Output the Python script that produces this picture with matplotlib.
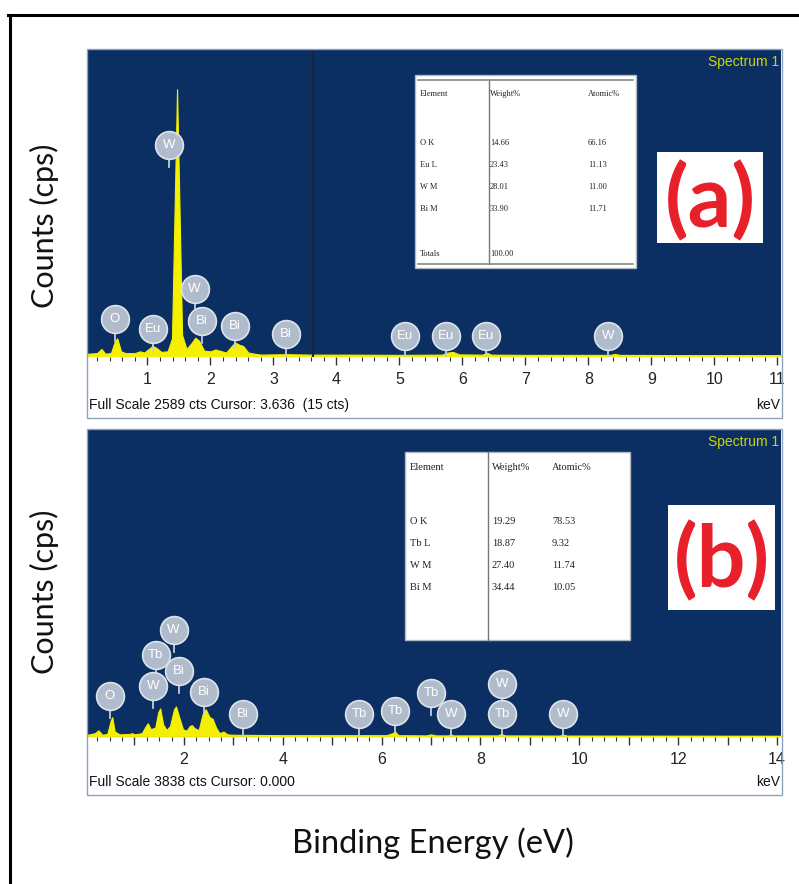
import matplotlib
matplotlib.use("Agg")
import matplotlib.pyplot as plt
from matplotlib.patches import Rectangle
from matplotlib.lines import Line2D
from matplotlib.ticker import MultipleLocator

W, H = 799, 884

# spectrum (a): energy (keV) and counts
a_kev = [0.05, 0.20, 0.27, 0.33, 0.42, 0.48, 0.52, 0.58, 0.65, 0.80, 0.88, 0.95,
         1.02, 1.08, 1.14, 1.22, 1.32, 1.39, 1.47, 1.55, 1.62, 1.70, 1.76, 1.82,
         1.90, 2.00, 2.08, 2.15, 2.25, 2.33, 2.39, 2.46, 2.52, 2.60, 2.70, 2.80,
         3.20, 3.60, 4.20, 5.00, 5.68, 5.75, 5.85, 5.95, 6.32, 6.39, 6.46, 7.00,
         8.35, 8.42, 8.50, 9.50, 11.10]
a_cts = [20, 25, 60, 20, 25, 120, 150, 40, 25, 25, 40, 30,
         60, 85, 70, 35, 40, 150, 2258, 180, 60, 110, 155, 130,
         45, 40, 55, 45, 30, 80, 115, 95, 85, 30, 20, 12,
         16, 12, 12, 10, 12, 28, 35, 14, 12, 28, 12, 10,
         10, 18, 10, 8, 8]

# spectrum (b)
b_kev = [0.05, 0.20, 0.27, 0.35, 0.45, 0.52, 0.55, 0.60, 0.70, 0.90, 0.95, 1.00,
         1.15, 1.22, 1.27, 1.33, 1.42, 1.48, 1.52, 1.58, 1.65, 1.72, 1.80, 1.84,
         1.90, 1.98, 2.05, 2.12, 2.16, 2.22, 2.30, 2.38, 2.44, 2.52, 2.58, 2.65,
         2.72, 2.80, 2.88, 3.00, 4.00, 5.00, 6.10, 6.22, 6.27, 6.34, 6.90, 7.00,
         7.10, 7.35, 7.40, 7.45, 8.35, 8.42, 8.50, 9.60, 9.67, 9.75, 14.10]
b_cts = [20, 40, 75, 20, 30, 200, 240, 60, 25, 30, 40, 25,
         40, 120, 165, 90, 110, 300, 350, 150, 80, 130, 340, 375,
         250, 90, 70, 130, 140, 100, 80, 280, 340, 240, 220, 110,
         40, 60, 25, 20, 15, 15, 15, 40, 60, 15, 12, 25,
         12, 12, 25, 12, 12, 30, 12, 10, 20, 10, 8]

# peak labels
a_lab_el = ['W', 'O', 'Eu', 'W', 'Bi', 'Bi', 'Bi', 'Eu', 'Eu', 'Eu', 'W']
a_lab_x = [1.34, 0.48, 1.09, 1.75, 1.87, 2.39, 3.20, 5.09, 5.74, 6.37, 8.31]
a_lab_y = [1783, 314, 229, 569, 297, 255, 187, 170, 170, 170, 170]

b_lab_el = ['O', 'W', 'Tb', 'W', 'Bi', 'Bi', 'Bi', 'Tb', 'Tb', 'Tb', 'W', 'W', 'Tb', 'W']
b_lab_x = [0.50, 1.38, 1.43, 1.79, 1.90, 2.40, 3.19, 5.55, 6.27, 7.00, 7.41, 8.44, 8.44, 9.67]
b_lab_y = [500, 625, 1025, 1338, 813, 550, 275, 275, 313, 538, 275, 650, 275, 275]

# quantification tables
a_elem = ['O K', 'Eu L', 'W M', 'Bi M']
a_weight = ['14.66', '23.43', '28.01', '33.90']
a_atomic = ['66.16', '11.13', '11.00', '11.71']
a_total = '100.00'

b_elem = ['O K', 'Tb L', 'W M', 'Bi M']
b_weight = ['19.29', '18.87', '27.40', '34.44']
b_atomic = ['78.53', '9.32', '11.74', '10.05']

a_full, b_full = 2589, 3838

navy = '#0b2f62'
yellow = '#f4f000'

fig = plt.figure(figsize=(W / 100, H / 100), dpi=100)


def fx(x):
    return x / W


def fy(y):
    return 1 - y / H


def panel(top, bottom, strip, kev, cts, full, xlim, major, minor, labstep,
          els, lx, ly, note, tag, tagbox):
    ax = fig.add_axes([fx(88), fy(bottom), fx(781) - fx(88), fy(top) - fy(bottom)])
    ax.set_facecolor(navy)
    ax.fill_between(kev, 0, cts, color=yellow, lw=0.8, edgecolor=yellow)
    ax.set_xlim(*xlim)
    ax.set_ylim(-8, full)
    ax.set_yticks([])
    for s in ax.spines.values():
        s.set_visible(False)
    ax.xaxis.set_major_locator(MultipleLocator(major))
    ax.xaxis.set_minor_locator(MultipleLocator(minor))
    ax.tick_params(axis='x', which='major', length=6, width=1, color='#333333',
                   labelsize=11.5, labelcolor='#222222', pad=5)
    ax.tick_params(axis='x', which='minor', length=3, width=0.8, color='#333333')
    ticks = ax.get_xticks()
    ax.set_xticklabels([('%d' % t if (t % labstep == 0 and t > 0) else '') for t in ticks],
                       family='Liberation Sans')

    stem = 22 * full / (bottom - top)
    for e, x, y in zip(els, lx, ly):
        ax.plot([x, x], [y, y - stem], color='#c4cdd9', lw=1.3, zorder=4)
        ax.plot(x, y, 'o', ms=20, mfc='#b0bccb', mec='#dde3ea', mew=1.2, zorder=5)
        ax.text(x, y, e, color='white', ha='center', va='center', fontsize=9.5,
                family='Liberation Sans', zorder=6)

    # frame round panel + strip
    fig.add_artist(Rectangle((fx(87), fy(strip)), fx(782) - fx(87), fy(top - 1) - fy(strip),
                             fill=False, ec='#8fa2bd', lw=1))
    fig.text(fx(89), fy(strip - 13), note, ha='left', va='center', fontsize=10,
             family='Liberation Sans', color='#111111')
    fig.text(fx(780), fy(strip - 13), 'keV', ha='right', va='center', fontsize=10,
             family='Liberation Sans', color='#111111')
    fig.text(fx(779), fy(top + 12), 'Spectrum 1', ha='right', va='center', fontsize=10,
             family='Liberation Sans', color='#ccd40c')

    x0, y0, x1, y1 = tagbox
    fig.add_artist(Rectangle((fx(x0), fy(y1)), fx(x1) - fx(x0), fy(y0) - fy(y1),
                             fc='white', ec='none'))
    fig.text(fx((x0 + x1) / 2), fy((y0 + y1) / 2 + 4), tag, ha='center', va='center',
             fontsize=62, fontweight='bold', family='Lato', color='#e8202a')
    return ax


ax_a = panel(50, 357, 418, a_kev, a_cts, a_full, (0.056, 11.06), 1, 0.2, 1,
             a_lab_el, a_lab_x, a_lab_y,
             'Full Scale 2589 cts Cursor: 3.636  (15 cts)', '(a)', (657, 152, 763, 243))
ax_a.axvline(3.636, color='#1a2433', lw=1.5, zorder=3)

ax_b = panel(430, 737, 795, b_kev, b_cts, b_full, (0.06, 14.08), 1, 0.25, 2,
             b_lab_el, b_lab_x, b_lab_y,
             'Full Scale 3838 cts Cursor: 0.000', '(b)', (668, 505, 775, 610))


def table(box, vline, cols, rows, header, data, size):
    x0, y0, x1, y1 = box
    fig.add_artist(Rectangle((fx(x0), fy(y1)), fx(x1) - fx(x0), fy(y0) - fy(y1),
                             fc='white', ec='#b0b8c4', lw=1))
    fig.add_artist(Line2D([fx(vline[0])] * 2, [fy(vline[1]), fy(vline[2])],
                          color='#777777', lw=1))
    for j, h in enumerate(header):
        fig.text(fx(cols[j]), fy(rows[0]), h, ha='left', va='center', fontsize=size,
                 family='Liberation Serif', color='#222222')
    for i, row in enumerate(data):
        for j, v in enumerate(row):
            fig.text(fx(cols[j]), fy(rows[i + 1]), v, ha='left', va='center',
                     fontsize=size, family='Liberation Serif', color='#222222')


a_rows = [list(r) for r in zip(a_elem, a_weight, a_atomic)] + [['Totals', a_total]]
table((415, 75, 636, 268), (489, 80, 264), [420, 490, 588], [94, 143, 165, 187, 209, 254],
      ['Element', 'Weight%', 'Atomic%'], a_rows, 6)
fig.add_artist(Line2D([fx(418), fx(633)], [fy(80), fy(80)], color='#888888', lw=1.2))
fig.add_artist(Line2D([fx(418), fx(633)], [fy(264), fy(264)], color='#888888', lw=1.2))

b_rows = [list(r) for r in zip(b_elem, b_weight, b_atomic)]
table((405, 452, 630, 640), (488, 452, 640), [410, 492, 552], [467, 522, 544, 566, 588],
      ['Element', 'Weight%', 'Atomic%'], b_rows, 7.5)

# axis titles
for yc in (226, 592):
    fig.text(fx(44), fy(yc), 'Counts (cps)', rotation=90, ha='center', va='center',
             fontsize=22, family='Lato', color='#111111')
fig.text(fx(433), fy(843), 'Binding Energy (eV)', ha='center', va='center',
         fontsize=23.5, family='Lato', color='#111111')

# outer frame
fig.add_artist(Line2D([fx(8), 1], [fy(15), fy(15)], color='black', lw=2.2))
fig.add_artist(Line2D([fx(10), fx(10)], [fy(15), 0], color='black', lw=2.2))

fig.savefig('out.png', dpi=100)
